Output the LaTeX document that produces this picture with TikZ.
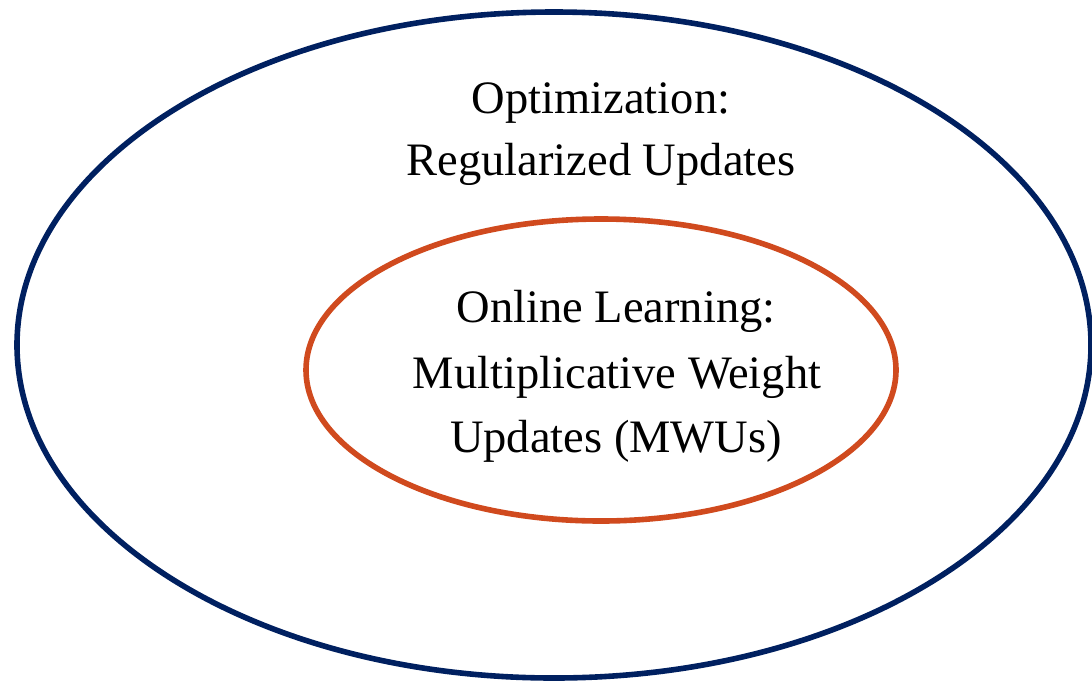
\documentclass[tikz,border=0pt]{standalone}
\usepackage{fontspec}
\setmainfont{Liberation Serif}
\definecolor{navyline}{HTML}{002060}
\definecolor{rustline}{HTML}{D04A1E}
\begin{document}
\begin{tikzpicture}[x=1pt,y=-1pt,
  outerring/.style={draw=navyline,line width=5.6pt},
  innerring/.style={draw=rustline,line width=5.6pt},
  label/.style={anchor=base,inner sep=0pt,font=\fontsize{46.5}{60}\selectfont}]
  \useasboundingbox (0,0) rectangle (1092,681);
  % outer and inner regions
  \draw[outerring] (554,345) ellipse [x radius=537, y radius=333];
  \draw[innerring] (601,370) ellipse [x radius=295, y radius=151];
  % outer region caption
  \node[label] (opt1) at (601,113) {Optimization:};
  \node[label] (opt2) at (601,175) {Regularized Updates};
  % inner region caption
  \node[label] (ol1) at (616,322) {Online Learning:};
  \node[label] (ol2) at (617,388) {Multiplicative Weight};
  \node[label] (ol3) at (616,452) {Updates (MWUs)};
\end{tikzpicture}
\end{document}
